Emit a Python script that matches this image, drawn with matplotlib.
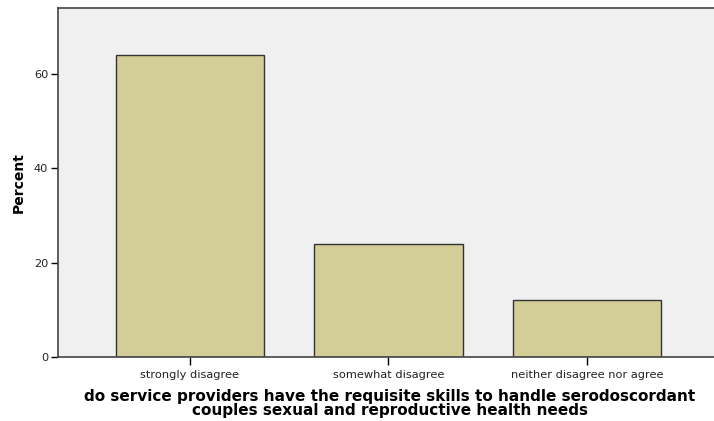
import matplotlib
matplotlib.use("Agg")
import matplotlib.pyplot as plt

categories = ["strongly disagree", "somewhat disagree", "neither disagree nor agree"]
percents = [64, 24, 12]
y_ticks = [0, 20, 40, 60]

fig = plt.figure(figsize=(7.14, 4.21), dpi=100)
ax = fig.add_axes([58/714, 1-357/421, 1-58/714, (357-8)/421])
ax.set_facecolor("#F0F0F0")
x = list(range(len(categories)))
ax.bar(x, percents, width=0.75, color="#D3CE97", edgecolor="#333333", linewidth=1.0)
ax.set_xlim(-0.665, 2.64)
ax.set_ylim(0, 74)
ax.set_yticks(y_ticks)
ax.set_xticks(x)
ax.set_xticklabels(categories, fontsize=8.2, color="#222222")
ax.tick_params(axis="y", labelsize=8.2, labelcolor="#222222", length=5, width=1, direction="out", pad=2)
ax.tick_params(axis="x", length=6, width=1, direction="out", pad=3)
ax.spines["right"].set_visible(False)
for s in ["left", "top", "bottom"]:
    ax.spines[s].set_color("#444444")
    ax.spines[s].set_linewidth(1.2)
ax.set_ylabel("Percent", fontsize=10, fontweight="bold", labelpad=6)
ax.set_xlabel("do service providers have the requisite skills to handle serodoscordant\ncouples sexual and reproductive health needs",
              fontsize=11, fontweight="bold", linespacing=0.9)
ax.xaxis.set_label_coords((389.5 - 58) / 656, (357 - 389) / 349)
fig.savefig("out.png", dpi=100)
